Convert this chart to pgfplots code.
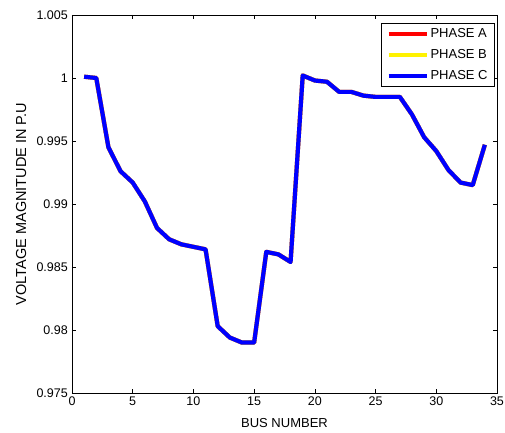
\documentclass[border=0pt]{standalone}
\usepackage{pgfplots}
\pgfplotsset{compat=1.18}
\usepackage{fontspec}
\setmainfont{Liberation Sans}
\pgfplotstableread{
x y
1 1.0001
2 1.0000
3 0.9945
4 0.9926
5 0.9917
6 0.9902
7 0.9881
8 0.9872
9 0.9868
10 0.9866
11 0.9864
12 0.9803
13 0.9794
14 0.9790
15 0.9790
16 0.9862
17 0.9860
18 0.9854
19 1.0002
20 0.9998
21 0.9997
22 0.9989
23 0.9989
24 0.9986
25 0.9985
26 0.9985
27 0.9985
28 0.9971
29 0.9953
30 0.9942
31 0.9927
32 0.9917
33 0.9915
34 0.9947
}\phasedata
\begin{document}
\fontsize{12bp}{14bp}\selectfont
\begin{tikzpicture}
\useasboundingbox (-72bp,-40bp) rectangle (433bp,393bp);
\begin{axis}[
  at={(0,0)}, anchor=south west,
  scale only axis,
  width=425bp, height=378bp,
  xmin=0, xmax=35, ymin=0.975, ymax=1.005,
  xtick={0,5,...,35},
  ytick={0.975,0.98,0.985,0.99,0.995,1,1.005},
  yticklabels={0.975,0.98,0.985,0.99,0.995,1,1.005},
  tick align=inside,
  major tick length=4bp,
  tick style={black, line width=0.6bp},
  axis line style={line width=0.8bp},
  /pgf/number format/assume math mode=true,
  ticklabel style={font=\fontsize{12.5bp}{14bp}\selectfont},
  xlabel={BUS NUMBER},
  ylabel={VOLTAGE MAGNITUDE IN P.U},
  xlabel style={font=\fontsize{13bp}{15bp}\selectfont, yshift=-4bp},
  ylabel style={font=\fontsize{14.5bp}{16bp}\selectfont, yshift=2bp},
  legend style={at={(1,1)}, anchor=north east, xshift=-2bp, yshift=-8bp,
    draw=black, line width=0.8bp, font=\fontsize{13bp}{15bp}\selectfont,
    row sep=6bp, inner xsep=5bp, inner ysep=3bp},
  legend cell align=left,
  legend image code/.code={\draw[#1, line width=4bp] (0bp,0bp) -- (38bp,0bp);},
]
\addplot[red, line width=4.2bp, line join=round] table {\phasedata};
\addlegendentry{PHASE A}
\addplot[yellow, line width=4.2bp, line join=round] table {\phasedata};
\addlegendentry{PHASE B}
\addplot[blue, line width=4.2bp, line join=round] table {\phasedata};
\addlegendentry{PHASE C}
\end{axis}
\end{tikzpicture}
\end{document}
